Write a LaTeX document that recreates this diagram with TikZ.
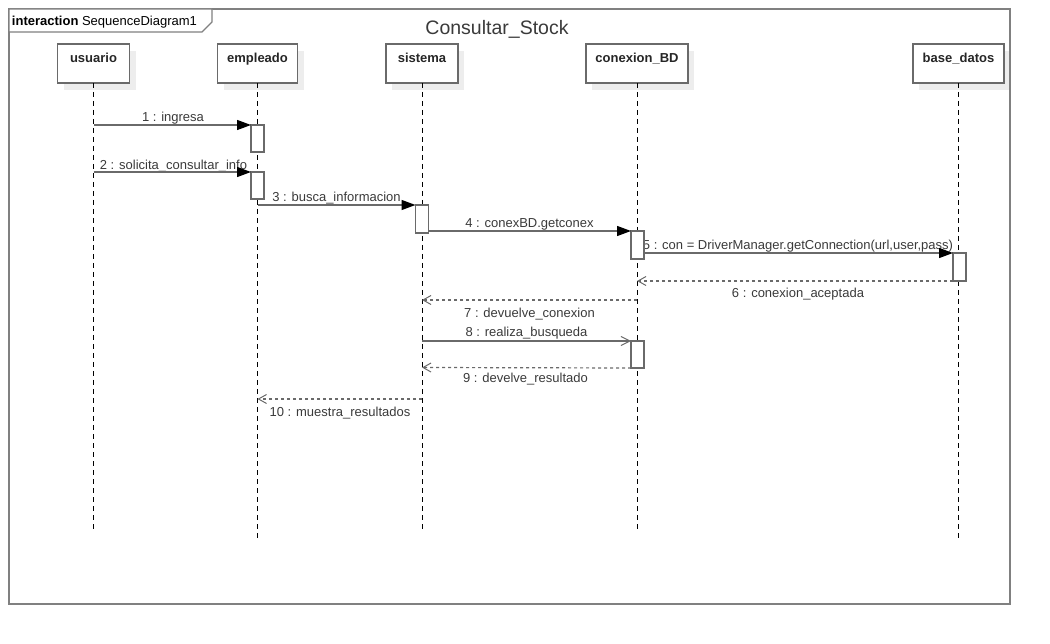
\documentclass[tikz,border=0pt]{standalone}
\usepackage{fontspec}
\setmainfont{Liberation Sans}
\usetikzlibrary{arrows.meta,shadows}
\definecolor{framegray}{HTML}{808080}
\definecolor{linegray}{HTML}{6A6A6A}
\definecolor{txt}{HTML}{3A3A3A}

\begin{document}
\begin{tikzpicture}[x=1pt,y=-1pt,
  every node/.style={inner sep=0pt, outer sep=0pt},
  msgfont/.style={font=\fontsize{13}{15}\selectfont, text=txt, anchor=base},
  headbox/.style={draw=linegray, line width=1.3pt, fill=white, minimum height=39pt,
    general shadow={fill=black!7, shadow xshift=6pt, shadow yshift=-7pt}},
  headtext/.style={font=\fontsize{13}{15}\selectfont\bfseries, text=black!85, anchor=base},
  lifeline/.style={draw=black, line width=0.8pt, dash pattern=on 5pt off 4pt},
  activation/.style={draw=linegray, line width=1.3pt, fill=white, minimum width=13pt},
  syncmsg/.style={draw=linegray, line width=1.3pt, -{Triangle[length=14pt,width=10pt,black]}},
  asyncmsg/.style={draw=linegray, line width=1.3pt, -{Straight Barb[length=9pt,width=9pt,line width=1pt]}},
  replymsg/.style={draw=linegray, line width=1.2pt, dash pattern=on 3pt off 3pt,
    -{Straight Barb[length=8pt,width=9pt,line width=1pt]}},
]
\useasboundingbox (0,0) rectangle (1050,644);

% title of the interaction
\node[font=\fontsize{19.5}{22}\selectfont, text=txt, anchor=base] (title) at (497,35) {Consultar\_Stock};

% lifeline heads
\node[headbox, minimum width=72pt]  (hu) at (93.5,63.5) {};
\node[headbox, minimum width=80pt]  (he) at (257.5,63.5) {};
\node[headbox, minimum width=72pt]  (hs) at (422,63.5) {};
\node[headbox, minimum width=102pt] (hc) at (637,63.5) {};
\node[headbox, minimum width=91pt]  (hb) at (958.5,63.5) {};
\node[headtext] (tu) at (93.5,63) {usuario};
\node[headtext] (te) at (257.5,63) {empleado};
\node[headtext] (ts) at (422,63) {sistema};
\node[headtext] (tc) at (637,63) {conexion\_BD};
\node[headtext] (tb) at (958.5,63) {base\_datos};

% lifeline ends
\coordinate (eu) at (hu.south |- 0,532);
\coordinate (ee) at (he.south |- 0,538);
\coordinate (es) at (hs.south |- 0,532);
\coordinate (ec) at (hc.south |- 0,532);
\coordinate (eb) at (hb.south |- 0,538);
\draw[lifeline] (hu.south) -- (eu);
\draw[lifeline] (he.south) -- (ee);
\draw[lifeline] (hs.south) -- (es);
\draw[lifeline] (hc.south) -- (ec);
\draw[lifeline] (hb.south) -- (eb);

% message labels (set below the execution boxes)
\node[msgfont] (l1) at (173,121.5) {1 : ingresa};
\node[msgfont] (l2) at (173.5,169.5) {2 : solicita\_consultar\_info};
\node[msgfont] (l3) at (336.5,201.5) {3 : busca\_informacion};
\node[msgfont] (l4) at (529.5,227.5) {4 : conexBD.getconex};
\node[msgfont] (l5) at (798,249.5) {5 : con = DriverManager.getConnection(url,user,pass)};
\node[msgfont] (l6) at (798,297.5) {6 : conexion\_aceptada};
\node[msgfont] (l7) at (529.5,317.5) {7 : devuelve\_conexion};
\node[msgfont] (l8) at (526.5,336.5) {8 : realiza\_busqueda};
\node[msgfont] (l9) at (525.5,382.5) {9 : develve\_resultado};
\node[msgfont] (l10) at (340,416.5) {10 : muestra\_resultados};

% execution specifications
\node[activation, minimum height=27pt] (a1) at (257.5,138.5) {};
\node[activation, minimum height=27pt] (a2) at (257.5,185.5) {};
\node[activation, minimum height=28pt] (a3) at (422,219) {};
\node[activation, minimum height=28pt] (a4) at (637.5,245) {};
\node[activation, minimum height=28pt] (a5) at (959.5,267) {};
\node[activation, minimum height=27pt] (a6) at (637.5,354.5) {};

% message ends on the lifelines
\coordinate (m1) at (hu.south |- 0,125);
\coordinate (m2) at (hu.south |- 0,172);
\coordinate (m3) at (he.south |- 0,205);
\coordinate (m6) at (hc.south |- 0,281);
\coordinate (m7a) at (hc.south |- 0,300);
\coordinate (m7b) at (hs.south |- 0,300);
\coordinate (m8) at (hs.south |- 0,341);
\coordinate (m9) at (hs.south |- 0,367.5);
\coordinate (m10a) at (hs.south |- 0,399);
\coordinate (m10b) at (he.south |- 0,399);

% messages
\draw[syncmsg] (m1) -- (a1.north west);
\draw[syncmsg] (m2) -- (a2.north west);
\draw[syncmsg] (m3) -- (a3.north west);
\draw[syncmsg] (a4.north west -| a3.east) -- (a4.north west);
\draw[syncmsg] (a5.north west -| a4.east) -- (a5.north west);
\draw[replymsg] (a5.south west) -- (m6);
\draw[replymsg] (m7a) -- (m7b);
\draw[asyncmsg] (m8) -- (a6.north west);
\draw[replymsg] (a6.south west) -- (m9);
\draw[replymsg] (m10a) -- (m10b);

% interaction frame and its name tab, on top
\draw[framegray, line width=1.8pt] (9,9) rectangle (1010,604);
\draw[framegray, line width=1.2pt, fill=white] (9,9) -- (212,9) -- (212,22) -- (202,32) -- (9,32) -- cycle;
\node[anchor=base west, font=\fontsize{13}{15}\selectfont, text=black] (tab) at (12,26)
  {\textbf{interaction} SequenceDiagram1};
\end{tikzpicture}
\end{document}
